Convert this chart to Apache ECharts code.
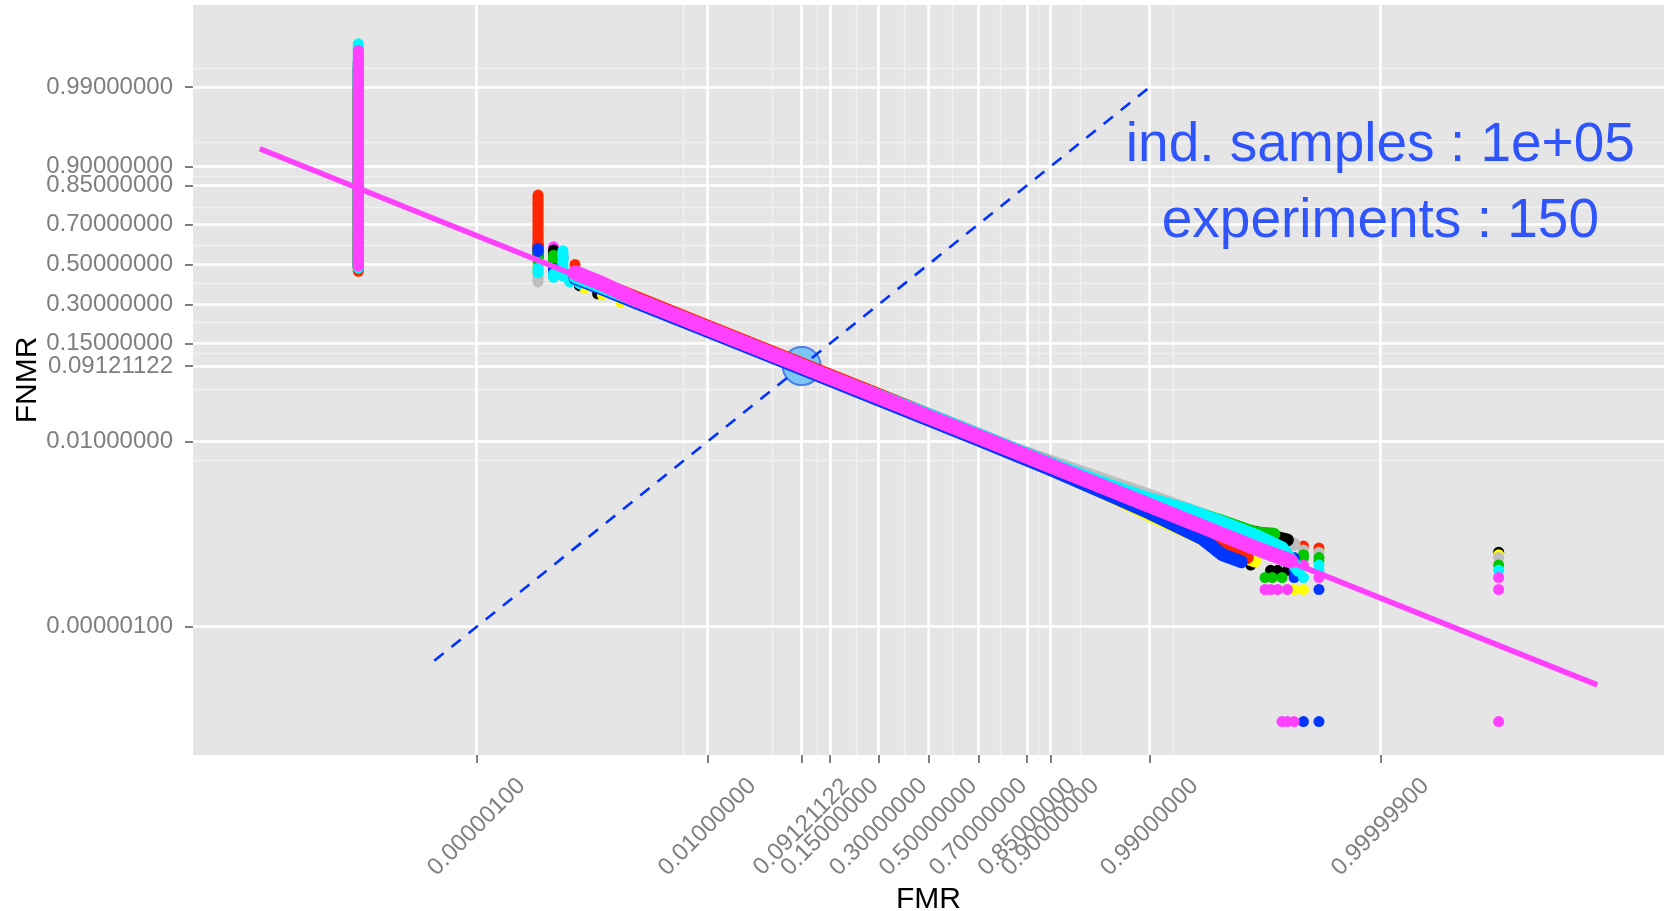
<!DOCTYPE html>
<html><head><meta charset="utf-8">
<script src="https://cdn.jsdelivr.net/npm/echarts@6/dist/echarts.min.js"></script>
<style>html,body{margin:0;padding:0;background:#fff}#chart{width:1669px;height:911px}</style>
</head><body><div id="chart"></div>
<script>
// ---------------- data (probabilities; drawn on a probit / normal-deviate scale) ----------------
const FMR_TICKS = [0.000001, 0.01, 0.09121122, 0.15, 0.3, 0.5, 0.7, 0.85, 0.9, 0.99, 0.999999];
const FMR_TICK_LABELS = ["0.00000100","0.01000000","0.09121122","0.15000000","0.30000000","0.50000000","0.70000000","0.85000000","0.90000000","0.99000000","0.99999900"];
const FNMR_TICKS = [0.000001, 0.01, 0.09121122, 0.15, 0.3, 0.5, 0.7, 0.85, 0.9, 0.99];
const FNMR_TICK_LABELS = ["0.00000100","0.01000000","0.09121122","0.15000000","0.30000000","0.50000000","0.70000000","0.85000000","0.90000000","0.99000000"];
const FMR_MINOR = [0.0050005, 0.0506056, 0.1206056, 0.225, 0.4, 0.6, 0.775, 0.875, 0.945, 0.995];
const FNMR_MINOR = [0.0050005, 0.0506056, 0.1206056, 0.225, 0.4, 0.6, 0.775, 0.875, 0.945, 0.995];

const EER = 0.09121122;
const DIAGONAL = [[1e-7, 1e-7], [0.99, 0.99]];
const FIT_LINE = [[1e-12, 0.9354], [0.999999999999, 1.73e-8]];
const ANNOTATION_TEXT = ["ind. samples : 1e+05", "experiments : 150"];
const ANNOTATION_POS = [[0.999999, 0.94], [0.999999, 0.71]];

const BAND_FMR = [1e-4, 3e-4, 1e-3, 1e-2, 0.1, 0.3, 0.5, 0.7, 0.9, 0.97, 0.99, 0.997, 0.999, 0.9997];

const YELLOW_STACKS = [[1e-9, 0.48, 0.99], [2e-5, 0.45, 0.5]];
const YELLOW_BAND = [0.4364, 0.3806, 0.3174, 0.1957, 0.0839, 0.0394, 0.0217, 0.01124, 0.00368, 0.00126, 0.0005, 0.00021, 0.0001];
const YELLOW_TAIL = [[0.9997, 0.00005]];
const YELLOW_DOTS = [[1.5e-4, 0.378], [3e-4, 0.345], [6e-4, 0.31], [0.99994, 1e-5], [0.99996, 1e-5], [0.99998, 9e-5], [0.999999999, 7e-5]];

const GREY_STACKS = [[1e-9, 0.47, 0.993], [2e-5, 0.409, 0.5]];
const GREY_BAND = [0.4441, 0.388, 0.3245, 0.2013, 0.0871, 0.0411, 0.02275, 0.01185, 0.00494, 0.00226, 0.00122, 0.00064, 0.00036, 0.000193];
const GREY_TAIL = [[0.99994, 0.00012]];
const GREY_DOTS = [[0.99996, 9e-5], [0.99998, 8e-5], [0.999999999, 6e-5]];

const BLACK_STACKS = [[1e-9, 0.48, 0.995], [2e-5, 0.54, 0.6026], [4e-5, 0.5, 0.575]];
const BLACK_BAND = [0.4325, 0.3768, 0.3138, 0.193, 0.0824, 0.0385, 0.0212, 0.011, 0.0039, 0.0017, 0.00087, 0.00048, 0.0003, 0.00022];
const BLACK_TAIL = [[0.99992, 0.00015]];
const BLACK_DOTS = [[1.2e-4, 0.39], [2.5e-4, 0.35], [0.99965, 4e-5], [0.99984, 3e-5], [0.99988, 3e-5], [0.99992, 3e-5], [0.999999999, 8e-5]];

const RED_STACKS = [[1e-9, 0.464, 0.99], [2e-5, 0.579, 0.8186]];
const RED_BAND = [0.4562, 0.3998, 0.3354, 0.2098, 0.0919, 0.0438, 0.0244, 0.0128, 0.00451, 0.00175, 0.00078, 0.00028, 0.00011];
const RED_TAIL = [[0.9996, 0.00006]];
const RED_DOTS = [[1e-4, 0.5], [0.99996, 1.1e-4], [0.99998, 1e-4]];

const GREEN_STACKS = [[1e-9, 0.485, 0.996], [2e-5, 0.52, 0.56], [4e-5, 0.52, 0.548]];
const GREEN_BAND = [0.4364, 0.382, 0.3174, 0.1957, 0.0839, 0.0394, 0.0217, 0.01124, 0.00415, 0.00175, 0.00097, 0.0006, 0.000376, 0.000216];
const GREEN_TAIL = [[0.99986, 0.0002]];
const GREEN_DOTS = [[0.9998, 2e-5], [0.99985, 2e-5], [0.9999, 2e-5], [0.99996, 7e-5], [0.99996, 6e-5], [0.99998, 6e-5], [0.99998, 5e-5], [0.999999999, 4e-5]];

const BLUE_STACKS = [[1e-9, 0.49, 0.996], [2e-5, 0.5675, 0.583], [4e-5, 0.44, 0.48], [6e-5, 0.528, 0.54]];
const BLUE_BAND = [0.4286, 0.373, 0.3103, 0.1902, 0.0809, 0.0377, 0.0207, 0.01067, 0.00355, 0.00128, 0.00055];
const BLUE_TAIL = [[0.998, 0.00016], [0.999, 0.00007], [0.9995, 0.000048]];
const BLUE_DOTS = [[0.99994, 6e-5], [0.99994, 5e-5], [0.99994, 4e-5], [0.99994, 3e-5], [0.99994, 2e-5], [0.99998, 1e-5], [0.99996, 1e-9], [0.99998, 1e-9]];

const CYAN_STACKS = [[1e-9, 0.48, 0.9981], [2e-5, 0.456, 0.48], [4e-5, 0.4325, 0.45], [6e-5, 0.44, 0.571]];
const CYAN_BAND = [0.4364, 0.382, 0.319, 0.2013, 0.0871, 0.0427, 0.0244, 0.0128, 0.00451, 0.00193, 0.00104, 0.00062, 0.00036, 0.000193];
const CYAN_TAIL = [[0.9999, 0.0001], [0.99995, 0.00003]];
const CYAN_DOTS = [[8e-5, 0.41], [1.2e-4, 0.40], [0.99996, 2e-5], [0.99998, 4e-5], [0.99998, 3e-5], [0.999999999, 3e-5]];

const MAGENTA_STACKS = [[1e-9, 0.492, 0.9975]];
const MAGENTA_BAND = [0.4562, 0.3998, 0.3245, 0.2013, 0.0871, 0.0411, 0.02275, 0.01185, 0.00413, 0.00164, 0.00078, 0.00037, 0.000196, 0.000101];
const MAGENTA_TAIL = [[0.99993, 0.00005]];
const MAGENTA_DOTS = [[2e-5, 0.635], [4e-5, 0.591], [4e-5, 0.47], [6e-5, 0.472],
  [0.99996, 4e-5], [0.99998, 2e-5], [0.9998, 1e-5], [0.99984, 1e-5], [0.99988, 1e-5], [0.99992, 1e-5],
  [0.9999, 1e-9], [0.99992, 1e-9], [0.99994, 1e-9], [0.999999999, 2e-5], [0.999999999, 1e-5], [0.999999999, 1e-9]];

// ---------------- styling ----------------
const FONT = "'Liberation Sans', Arial, Helvetica, sans-serif";
const C = {yellow:'#FFFF00', grey:'#BEBEBE', black:'#000000', red:'#FF2600', green:'#00C800', blue:'#0036FF', cyan:'#00F5FF', magenta:'#FF40FF'};

// inverse normal CDF (Acklam)
function qnorm(p){
  const a=[-3.969683028665376e+01,2.209460984245205e+02,-2.759285104469687e+02,1.383577518672690e+02,-3.066479806614716e+01,2.506628277459239e+00];
  const b=[-5.447609879822406e+01,1.615858368580409e+02,-1.556989798598866e+02,6.680131188771972e+01,-1.328068155288572e+01];
  const c=[-7.784894002430293e-03,-3.223964580411365e-01,-2.400758277161838e+00,-2.549732539343734e+00,4.374664141464968e+00,2.938163982698783e+00];
  const d=[7.784695709041462e-03,3.224671290700398e-01,2.445134137142996e+00,3.754408661907416e+00];
  const pl=0.02425;
  let q,r;
  if(p<pl){q=Math.sqrt(-2*Math.log(p));return (((((c[0]*q+c[1])*q+c[2])*q+c[3])*q+c[4])*q+c[5])/((((d[0]*q+d[1])*q+d[2])*q+d[3])*q+1);}
  if(p<=1-pl){q=p-0.5;r=q*q;return (((((a[0]*r+a[1])*r+a[2])*r+a[3])*r+a[4])*r+a[5])*q/(((((b[0]*r+b[1])*r+b[2])*r+b[3])*r+b[4])*r+1);}
  q=Math.sqrt(-2*Math.log(1-p));return -(((((c[0]*q+c[1])*q+c[2])*q+c[3])*q+c[4])*q+c[5])/((((d[0]*q+d[1])*q+d[2])*q+d[3])*q+1);
}
const pt = ([x,y]) => [qnorm(x), qnorm(y)];

const X_MIN = -7.737, X_MAX = 7.737, Y_MIN = -6.436, Y_MAX = 3.403;

const xMajor = FMR_TICKS.map(qnorm), yMajor = FNMR_TICKS.map(qnorm);
const xMinor = FMR_MINOR.map(qnorm), yMinor = FNMR_MINOR.map(qnorm);
function labeler(vals, labels){
  return v => { let bi=0, bd=1e9; vals.forEach((t,i)=>{const dd=Math.abs(t-v); if(dd<bd){bd=dd;bi=i;}}); return labels[bi]; };
}

const series = [];
// EER circle
series.push({type:'scatter', data:[pt([EER,EER])], symbolSize:38, silent:true,
  itemStyle:{color:'#7DC5F3', borderColor:'#4A7FEA', borderWidth:2, opacity:1}});
// diagonal
series.push({type:'line', data:DIAGONAL.map(pt), showSymbol:false, symbol:'none', silent:true,
  lineStyle:{color:'#0033FF', width:2.6, type:[12,10]}});

const groups = [
  ['yellow', YELLOW_STACKS, YELLOW_BAND, YELLOW_TAIL, YELLOW_DOTS],
  ['grey', GREY_STACKS, GREY_BAND, GREY_TAIL, GREY_DOTS],
  ['black', BLACK_STACKS, BLACK_BAND, BLACK_TAIL, BLACK_DOTS],
  ['red', RED_STACKS, RED_BAND, RED_TAIL, RED_DOTS],
  ['green', GREEN_STACKS, GREEN_BAND, GREEN_TAIL, GREEN_DOTS],
  ['blue', BLUE_STACKS, BLUE_BAND, BLUE_TAIL, BLUE_DOTS],
  ['cyan', CYAN_STACKS, CYAN_BAND, CYAN_TAIL, CYAN_DOTS],
  ['magenta', MAGENTA_STACKS, MAGENTA_BAND, MAGENTA_TAIL, MAGENTA_DOTS],
];
function lineSeries(color, pts, w){
  return {type:'line', data:pts.map(pt), showSymbol:false, symbol:'none', silent:true,
    lineStyle:{color:color, width:w, cap:'round', join:'round'}};
}
groups.forEach(([name, stacks, band, tail])=>{
  stacks.forEach(([x,lo,hi])=> series.push(lineSeries(C[name], [[x,lo],[x,hi]], 11)));
  const bandPts = band.map((y,i)=>[BAND_FMR[i], y]).concat(tail);
  series.push(lineSeries(C[name], bandPts, name === 'magenta' ? 15 : 13));
});
['black','yellow','red','grey','green','blue','cyan','magenta'].forEach(name=>{
  const g = groups.find(g=>g[0]===name);
  series.push({type:'scatter', data:g[4].map(pt), symbolSize:11, silent:true,
    itemStyle:{color:C[name], opacity:1}});
});
// fitted line
series.push({type:'line', data:FIT_LINE.map(pt), showSymbol:false, symbol:'none', silent:true,
  lineStyle:{color:'#FF40FF', width:5.5}});
// annotation
series.push({type:'scatter', silent:true, symbolSize:1, itemStyle:{color:'rgba(0,0,0,0)'},
  data:ANNOTATION_POS.map(pt),
  label:{show:true, position:'inside', formatter:p=>ANNOTATION_TEXT[p.dataIndex],
    fontSize:55, color:'#0030FF', fontFamily:FONT, align:'center', verticalAlign:'middle'}});

const tickStyle = {color:'#7F7F7F', width:2};
const option = {
  animation:false,
  backgroundColor:'#FFFFFF',
  grid:{left:193, right:5, top:5, bottom:156, show:true, backgroundColor:'#E5E5E5', borderWidth:0,
        containLabel:false, outerBoundsMode:'none'},
  xAxis:[
    {type:'value', min:X_MIN, max:X_MAX, z:1,
     axisLine:{show:false, onZero:false},
     axisTick:{show:true, customValues:xMajor, length:8, lineStyle:tickStyle},
     axisLabel:{show:true, customValues:xMajor, formatter:labeler(xMajor, FMR_TICK_LABELS), rotate:45,
       align:'center', verticalAlign:'middle', margin:72, color:'#7F7F7F', fontSize:24, fontFamily:FONT},
     splitLine:{show:true, lineStyle:{color:'#FFFFFF', width:2.6}},
     name:'FMR', nameLocation:'middle', nameGap:145, nameMoveOverlap:false,
     nameTextStyle:{fontSize:30, color:'#000000', fontFamily:FONT, verticalAlign:'middle'}},
    {type:'value', min:X_MIN, max:X_MAX, position:'bottom', z:0,
     axisLine:{show:false, onZero:false}, axisTick:{show:false, customValues:xMinor}, axisLabel:{show:false, customValues:xMinor},
     splitLine:{show:true, lineStyle:{color:'#F2F2F2', width:1.3}}}
  ],
  yAxis:[
    {type:'value', min:Y_MIN, max:Y_MAX, z:1,
     axisLine:{show:false, onZero:false},
     axisTick:{show:true, customValues:yMajor, length:8, lineStyle:tickStyle},
     axisLabel:{show:true, customValues:yMajor, formatter:labeler(yMajor, FNMR_TICK_LABELS),
       margin:20, color:'#7F7F7F', fontSize:24, fontFamily:FONT},
     splitLine:{show:true, lineStyle:{color:'#FFFFFF', width:2.6}},
     name:'FNMR', nameLocation:'middle', nameGap:165, nameMoveOverlap:false,
     nameTextStyle:{fontSize:30, color:'#000000', fontFamily:FONT, verticalAlign:'middle'}},
    {type:'value', min:Y_MIN, max:Y_MAX, position:'left', z:0,
     axisLine:{show:false, onZero:false}, axisTick:{show:false, customValues:yMinor}, axisLabel:{show:false, customValues:yMinor},
     splitLine:{show:true, lineStyle:{color:'#F2F2F2', width:1.3}}}
  ],
  series: series
};
const chart = echarts.init(document.getElementById('chart'), null, {renderer:'canvas'});
chart.setOption(option);
</script>
</body></html>
